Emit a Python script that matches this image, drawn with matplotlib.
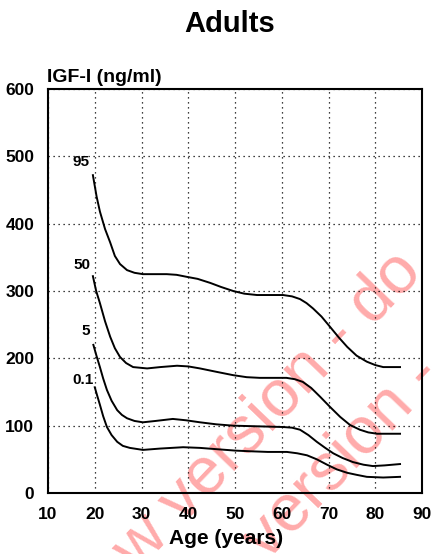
import matplotlib
matplotlib.use("Agg")
import matplotlib.pyplot as plt

plt.rcParams['font.family'] = ['Liberation Sans', 'DejaVu Sans']
plt.rcParams['font.weight'] = 'bold'

age_95 = [19.6, 20.4, 21.1, 22.2, 23.3, 24.3, 25.4, 26.9, 28.5, 30.3, 33.0, 35.4, 37.5, 39.7, 42.0, 44.7,
          47.0, 49.6, 52.0, 54.7, 57.5, 60.3, 62.2, 63.9, 65.3, 66.7, 68.5, 70.3, 72.2, 74.0, 76.0, 78.2,
          80.0, 81.7, 85.3]
val_95 = [472, 440, 418, 392, 372, 352, 340, 331, 327, 325, 325, 325, 324, 321, 318, 312,
          306, 300, 296, 294, 294, 294, 292, 288, 282, 274, 262, 247, 231, 217, 204, 195,
          190, 187, 187]

age_50 = [19.6, 20.3, 21.1, 22.2, 23.3, 24.3, 25.4, 26.7, 28.2, 31.2, 34.0, 37.6, 40.0, 42.5, 46.0, 49.6,
          52.5, 55.3, 58.0, 61.0, 62.8, 64.5, 66.3, 68.2, 70.3, 72.5, 74.6, 76.7, 78.5, 80.4, 85.3]
val_50 = [322, 300, 282, 255, 232, 215, 202, 193, 187, 185, 187, 189, 188, 185, 180, 175,
          172, 171, 171, 171, 169, 165, 156, 143, 128, 113, 101, 94, 90, 88, 88]

age_5 = [19.7, 20.4, 21.1, 21.8, 22.6, 23.6, 24.8, 25.8, 26.9, 28.5, 30.3, 33.0, 36.7, 39.5, 42.5, 46.0,
         49.6, 55.0, 60.3, 62.2, 63.9, 65.7, 67.5, 69.3, 71.0, 73.0, 75.2, 77.5, 79.5, 82.0, 85.3]
val_5 = [220, 203, 187, 170, 153, 137, 123, 116, 111, 107, 105, 107, 110, 108, 105, 102,
         100, 99, 98, 97, 94, 86, 76, 67, 59, 52, 46, 42, 40, 41, 43]

age_01 = [20.0, 20.5, 21.1, 21.8, 22.6, 23.6, 24.8, 26.0, 27.5, 30.3, 34.0, 38.9, 42.5, 46.2, 50.0, 53.2,
          57.0, 61.1, 63.3, 65.4, 67.5, 69.7, 71.8, 74.0, 76.0, 78.2, 81.7, 85.3]
val_01 = [157, 145, 131, 114, 98, 86, 76, 70, 67, 64, 66, 68, 67, 65, 63, 62,
          61, 61, 59, 56, 50, 42, 35, 30, 27, 24, 23, 24]

curve_labels = ["95", "50", "5", "0.1"]
label_pos_age = [17.1, 17.3, 18.1, 17.5]
label_pos_val = [492, 339, 240, 168]

x_ticks = [10, 20, 30, 40, 50, 60, 70, 80, 90]
y_ticks = [0, 100, 200, 300, 400, 500, 600]

fig = plt.figure(figsize=(4.33, 5.54), dpi=100)
fig.patch.set_facecolor('white')
ax = fig.add_axes([0.1109, 0.1101, 0.8637, 0.7293])
ax.patch.set_visible(False)

for a, v in [(age_95, val_95), (age_50, val_50), (age_5, val_5), (age_01, val_01)]:
    ax.plot(a, v, color='black', lw=1.4, solid_joinstyle='round')

for lab, a, v in zip(curve_labels, label_pos_age, label_pos_val):
    ax.text(a, v, lab, ha='center', va='center', fontsize=11, fontweight='bold')

ax.set_xlim(10, 90)
ax.set_ylim(0, 600)
ax.set_xticks(x_ticks)
ax.set_yticks(y_ticks)
ax.tick_params(length=0, labelsize=12.5, pad=10)
for t in ax.get_xticklabels() + ax.get_yticklabels():
    t.set_fontweight('bold')
ax.grid(True, color='black', linestyle=(0, (1, 3)), linewidth=0.9)
for s in ax.spines.values():
    s.set_linewidth(1.5)

fig.text(226/433, 1 - 538/554, "Age (years)", fontsize=15, fontweight='bold', ha='center', va='center')
fig.text(47/433, 1 - 77/554, "IGF-I (ng/ml)", fontsize=14, fontweight='bold', ha='left', va='center')
fig.text(230/433, 1 - 24/554, "Adults", fontsize=21, fontweight='bold', ha='center', va='center')

wm_color = (1.0, 0.67, 0.67)
fig.text(137/433, 1 - 573/554, "w version - do", fontsize=48, color=wm_color, rotation=46.2,
         rotation_mode='anchor', ha='left', va='baseline', fontweight='normal', zorder=-1)
fig.text(267/433, 1 - 562/554, "version - do", fontsize=48, color=wm_color, rotation=46.2,
         rotation_mode='anchor', ha='left', va='baseline', fontweight='normal', zorder=-1)

fig.savefig("out.png", dpi=100, facecolor='white')
